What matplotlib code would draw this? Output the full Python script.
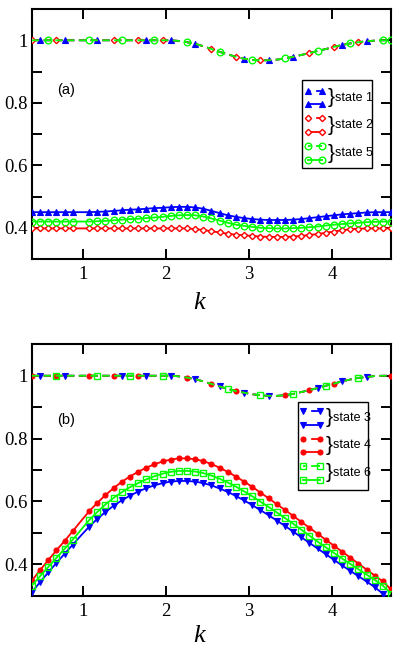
import numpy as np
import matplotlib.pyplot as plt
from matplotlib.patches import Rectangle
from matplotlib.ticker import MultipleLocator, FormatStrFormatter

# k grid (45 points from pi/8 to 3pi/2)
k = np.linspace(0.39, 4.71, 45)

# upper (dashed) curves, panel (a) and (b)
upper_a = [1.000, 1.000, 1.000, 1.000, 1.000, 1.000, 1.000, 1.000, 1.000, 1.000,
           1.000, 1.000, 1.000, 1.000, 1.000, 1.000, 1.000, 1.000, 0.998, 0.994,
           0.989, 0.981, 0.972, 0.963, 0.955, 0.947, 0.941, 0.937, 0.936, 0.936,
           0.938, 0.942, 0.947, 0.953, 0.959, 0.966, 0.972, 0.979, 0.985, 0.990,
           0.994, 0.997, 0.999, 1.000, 1.000]
upper_b = [1.000, 1.000, 1.000, 1.000, 1.000, 1.000, 1.000, 1.000, 1.000, 1.000,
           1.000, 1.000, 1.000, 1.000, 1.000, 1.000, 1.000, 1.000, 0.998, 0.994,
           0.989, 0.982, 0.974, 0.966, 0.958, 0.951, 0.946, 0.941, 0.938, 0.936,
           0.936, 0.938, 0.942, 0.948, 0.954, 0.961, 0.968, 0.975, 0.982, 0.988,
           0.993, 0.996, 0.999, 1.000, 1.000]

# panel (a) lower curves
state1 = [0.450, 0.450, 0.450, 0.450, 0.450, 0.450, 0.450, 0.450, 0.451, 0.452,
          0.454, 0.456, 0.458, 0.459, 0.461, 0.463, 0.464, 0.466, 0.467, 0.467,
          0.465, 0.461, 0.454, 0.447, 0.440, 0.435, 0.431, 0.428, 0.426, 0.425,
          0.425, 0.425, 0.426, 0.428, 0.431, 0.434, 0.437, 0.440, 0.443, 0.445,
          0.447, 0.449, 0.450, 0.450, 0.450]
state2 = [0.398, 0.398, 0.398, 0.398, 0.398, 0.398, 0.398, 0.398, 0.398, 0.398,
          0.398, 0.398, 0.398, 0.398, 0.398, 0.398, 0.398, 0.398, 0.398, 0.398,
          0.396, 0.393, 0.389, 0.385, 0.381, 0.378, 0.376, 0.374, 0.372, 0.371,
          0.371, 0.371, 0.372, 0.374, 0.377, 0.380, 0.384, 0.388, 0.392, 0.395,
          0.397, 0.398, 0.398, 0.398, 0.398]
state5 = [0.420, 0.420, 0.420, 0.420, 0.420, 0.420, 0.420, 0.420, 0.421, 0.422,
          0.424, 0.426, 0.428, 0.429, 0.431, 0.433, 0.435, 0.438, 0.440, 0.441,
          0.440, 0.436, 0.430, 0.423, 0.416, 0.410, 0.406, 0.403, 0.400, 0.399,
          0.398, 0.398, 0.399, 0.400, 0.402, 0.404, 0.407, 0.410, 0.412, 0.414,
          0.416, 0.418, 0.419, 0.420, 0.420]

# panel (b) lower curves
state3 = [0.311, 0.343, 0.374, 0.404, 0.433, 0.462, 0.491, 0.519, 0.544, 0.566,
          0.586, 0.603, 0.618, 0.631, 0.642, 0.651, 0.658, 0.663, 0.665, 0.665,
          0.663, 0.658, 0.651, 0.641, 0.630, 0.617, 0.603, 0.588, 0.572, 0.556,
          0.539, 0.522, 0.504, 0.486, 0.468, 0.450, 0.432, 0.414, 0.396, 0.379,
          0.362, 0.345, 0.327, 0.306, 0.285]
state4 = [0.348, 0.381, 0.413, 0.444, 0.474, 0.505, 0.537, 0.568, 0.595, 0.620,
          0.642, 0.662, 0.679, 0.694, 0.707, 0.718, 0.727, 0.733, 0.737, 0.737,
          0.734, 0.728, 0.719, 0.707, 0.694, 0.679, 0.663, 0.646, 0.628, 0.610,
          0.591, 0.573, 0.554, 0.535, 0.516, 0.497, 0.478, 0.459, 0.440, 0.421,
          0.402, 0.383, 0.364, 0.345, 0.320]
state6 = [0.332, 0.362, 0.391, 0.420, 0.449, 0.478, 0.509, 0.540, 0.566, 0.590,
          0.611, 0.629, 0.645, 0.658, 0.670, 0.680, 0.688, 0.694, 0.697, 0.697,
          0.695, 0.690, 0.682, 0.672, 0.660, 0.647, 0.632, 0.616, 0.599, 0.582,
          0.565, 0.547, 0.529, 0.510, 0.491, 0.472, 0.454, 0.436, 0.418, 0.401,
          0.384, 0.367, 0.350, 0.332, 0.306]

# which points of the dashed curves carry a marker
marks_a = {"state 1": [1, 4, 8, 14, 17, 20, 26, 29, 32, 38, 41],
           "state 2": [0, 3, 10, 13, 16, 22, 25, 28, 34, 37, 40],
           "state 5": [2, 7, 11, 15, 19, 23, 27, 31, 35, 39, 43, 44]}
marks_b = {"state 3": [1, 4, 11, 14, 17, 20, 23, 26, 29, 35, 38, 41],
           "state 4": [0, 3, 7, 10, 13, 19, 22, 25, 31, 34, 37, 44],
           "state 6": [3, 8, 12, 16, 24, 28, 32, 36, 40]}

BLUE, RED, GREEN = "#0000ff", "#ff0000", "#00ff00"
serif = ["Liberation Serif", "DejaVu Serif"]
sans = ["Liberation Sans", "DejaVu Sans"]

styles_a = [("state 1", state1, BLUE, dict(marker="^", ms=4.5, mfc=BLUE, mew=0.8)),
            ("state 2", state2, RED, dict(marker="D", ms=3.2, mfc="white", mew=1.0)),
            ("state 5", state5, GREEN, dict(marker="o", ms=4.8, mfc="none", mew=1.0))]
styles_b = [("state 3", state3, BLUE, dict(marker="v", ms=4.5, mfc=BLUE, mew=0.8)),
            ("state 4", state4, RED, dict(marker="o", ms=3.6, mfc=RED, mew=0.8)),
            ("state 6", state6, GREEN, dict(marker="s", ms=4.2, mfc="none", mew=1.0))]

solid_marks = [i for i in range(len(k)) if i != 6]


def style_axes(ax):
    ax.set_xlim(0.39, 4.71)
    ax.set_ylim(0.3, 1.1)
    ax.xaxis.set_major_locator(MultipleLocator(1))
    ax.yaxis.set_major_locator(MultipleLocator(0.2))
    ax.yaxis.set_minor_locator(MultipleLocator(0.1))
    ax.yaxis.set_major_formatter(FormatStrFormatter("%g"))
    ax.tick_params(which="both", direction="in", top=True, right=True,
                   length=7.5, width=1.4, labelsize=13.5, pad=3)
    ax.tick_params(axis="x", pad=5)
    for lbl in ax.get_xticklabels() + ax.get_yticklabels():
        lbl.set_family(serif)
    for sp in ax.spines.values():
        sp.set_linewidth(1.5)
    ax.set_xlabel("k", fontsize=19, family=serif, style="italic")


def draw_legend(ax, styles, x0, y0, x1, y1, rows, hx):
    ax.add_patch(Rectangle((x0, y0), x1 - x0, y1 - y0, transform=ax.transAxes,
                           fc="white", ec="black", lw=1.0, zorder=5))
    for j, (name, vals, col, mk) in enumerate(styles):
        yd, ys = rows[2 * j], rows[2 * j + 1]
        ax.plot(hx, [yd, yd], transform=ax.transAxes, color=col, lw=1.3,
                ls=(0, (1.5, 3.0, 4.0, 0)), clip_on=False, zorder=6, **mk)
        ax.plot(hx, [ys, ys], transform=ax.transAxes, color=col, lw=1.3,
                clip_on=False, zorder=6, **mk)
        ax.text(hx[1] + 0.016, (yd + ys) / 2, "}", transform=ax.transAxes,
                fontsize=15, family=sans, ha="left", va="center", zorder=7)
        ax.text(hx[1] + 0.036, (yd + ys) / 2, name, transform=ax.transAxes,
                fontsize=9, family=sans, ha="left", va="center", zorder=7)


def draw_panel(ax, upper, styles, marks, tag, tag_y, leg_box, rows, hx):
    #solid curves
    for name, vals, col, mk in styles:
        ax.plot(k, vals, color=col, lw=1.3, markevery=solid_marks, zorder=3, **mk)
    #dashed curves near 1
    for name, vals, col, mk in styles:
        ax.plot(k, upper, color=col, lw=1.3, dashes=(4, 2.5),
                markevery=marks[name], zorder=3, **mk)
    style_axes(ax)
    ax.text(0.07, tag_y, tag, transform=ax.transAxes, fontsize=10.5,
            family=sans, ha="left", va="center")
    draw_legend(ax, styles, *leg_box, rows, hx)


fig = plt.figure(figsize=(3.99, 6.46), dpi=100)
ax_a = fig.add_axes([0.080, 0.599, 0.900, 0.387])
ax_b = fig.add_axes([0.080, 0.078, 0.900, 0.389])

draw_panel(ax_a, upper_a, styles_a, marks_a, "(a)", 0.676,
           (0.752, 0.364, 0.947, 0.716),
           [0.672, 0.620, 0.564, 0.508, 0.452, 0.396], [0.769, 0.808])
draw_panel(ax_b, upper_b, styles_b, marks_b, "(b)", 0.699,
           (0.741, 0.420, 0.936, 0.770),
           [0.735, 0.679, 0.625, 0.570, 0.516, 0.460], [0.756, 0.802])

ax_a.xaxis.set_label_coords(0.465, -0.13)
ax_b.xaxis.set_label_coords(0.465, -0.115)

fig.savefig("out.png", dpi=100)
